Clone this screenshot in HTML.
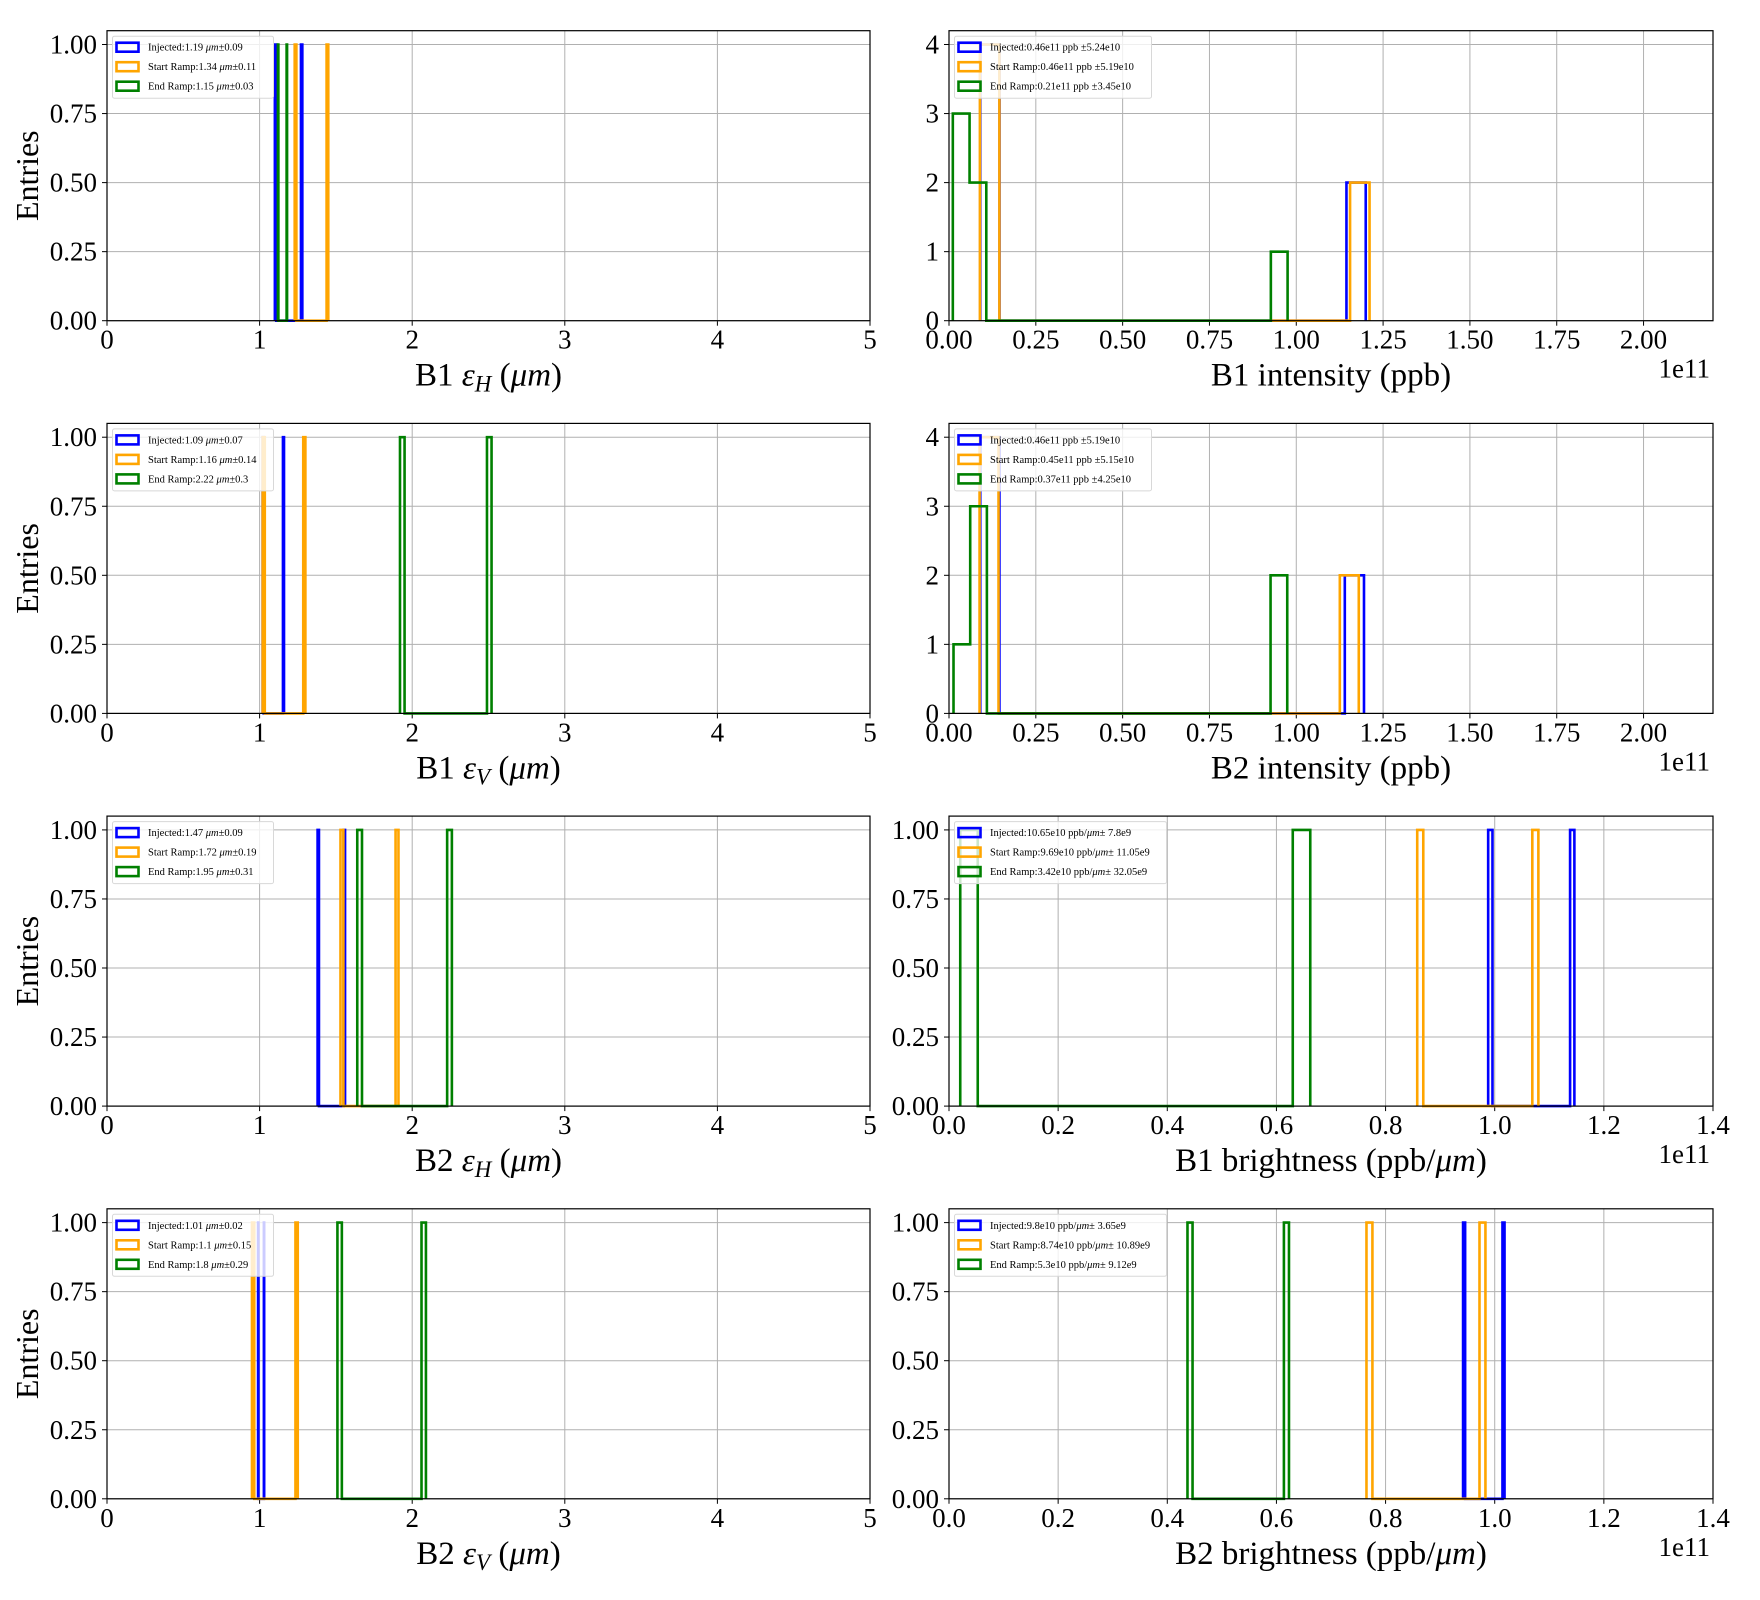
<!DOCTYPE html>
<html><head><meta charset="utf-8"><title>Histograms</title>
<style>
html,body{margin:0;padding:0;background:#fff;}
svg{display:block;font-family:"Liberation Serif","DejaVu Serif",serif;}
</style></head>
<body>
<svg id="fig" width="1760" height="1600" viewBox="0 0 1760 1600" xmlns="http://www.w3.org/2000/svg"></svg>
<script>
// ---- data: raw entries per series (units: um, 1e11 ppb, 1e11 ppb/um) ----
const seriesNames = ["Injected", "Start Ramp", "End Ramp"];
const b1EhInjected = [1.10, 1.28];
const b1EhStart = [1.23, 1.45];
const b1EhEnd = [1.12, 1.18];
const b1IntInjected = [0.090, 0.10, 0.11, 0.12, 1.18, 1.20];
const b1IntStart = [0.089, 0.10, 0.11, 0.12, 1.19, 1.211];
const b1IntEnd = [0.011, 0.03, 0.04, 0.08, 0.09, 0.975];
const b1EvInjected = [1.02, 1.16];
const b1EvStart = [1.02, 1.30];
const b1EvEnd = [1.92, 2.52];
const b2IntInjected = [0.090, 0.10, 0.11, 0.12, 1.17, 1.195];
const b2IntStart = [0.088, 0.10, 0.11, 0.12, 1.15, 1.18];
const b2IntEnd = [0.013, 0.07, 0.08, 0.09, 0.95, 0.974];
const b2EhInjected = [1.38, 1.56];
const b2EhStart = [1.53, 1.91];
const b2EhEnd = [1.64, 2.26];
const b1BrInjected = [0.988, 1.146];
const b1BrStart = [0.858, 1.080];
const b1BrEnd = [0.0206, 0.662];
const b2EvInjected = [0.99, 1.03];
const b2EvStart = [0.95, 1.25];
const b2EvEnd = [1.51, 2.09];
const b2BrInjected = [0.942, 1.018];
const b2BrStart = [0.765, 0.983];
const b2BrEnd = [0.437, 0.623];
const emitXTicks = [0, 1, 2, 3, 4, 5];
const emitXTickLabels = ["0", "1", "2", "3", "4", "5"];
const intXTicks = [0, 0.25, 0.5, 0.75, 1.0, 1.25, 1.5, 1.75, 2.0];
const intXTickLabels = ["0.00", "0.25", "0.50", "0.75", "1.00", "1.25", "1.50", "1.75", "2.00"];
const brXTicks = [0, 0.2, 0.4, 0.6, 0.8, 1.0, 1.2, 1.4];
const brXTickLabels = ["0.0", "0.2", "0.4", "0.6", "0.8", "1.0", "1.2", "1.4"];
const fracYTicks = [0, 0.25, 0.5, 0.75, 1.0];
const fracYTickLabels = ["0.00", "0.25", "0.50", "0.75", "1.00"];
const intYTicks = [0, 1, 2, 3, 4];
const intYTickLabels = ["0", "1", "2", "3", "4"];
const legB1Eh = ["Injected:1.19 |μm|±0.09", "Start Ramp:1.34 |μm|±0.11", "End Ramp:1.15 |μm|±0.03"];
const legB1Int = ["Injected:0.46e11 ppb ±5.24e10", "Start Ramp:0.46e11 ppb ±5.19e10", "End Ramp:0.21e11 ppb ±3.45e10"];
const legB1Ev = ["Injected:1.09 |μm|±0.07", "Start Ramp:1.16 |μm|±0.14", "End Ramp:2.22 |μm|±0.3"];
const legB2Int = ["Injected:0.46e11 ppb ±5.19e10", "Start Ramp:0.45e11 ppb ±5.15e10", "End Ramp:0.37e11 ppb ±4.25e10"];
const legB2Eh = ["Injected:1.47 |μm|±0.09", "Start Ramp:1.72 |μm|±0.19", "End Ramp:1.95 |μm|±0.31"];
const legB1Br = ["Injected:10.65e10 ppb/|μm|± 7.8e9", "Start Ramp:9.69e10 ppb/|μm|± 11.05e9", "End Ramp:3.42e10 ppb/|μm|± 32.05e9"];
const legB2Ev = ["Injected:1.01 |μm|±0.02", "Start Ramp:1.1 |μm|±0.15", "End Ramp:1.8 |μm|±0.29"];
const legB2Br = ["Injected:9.8e10 ppb/|μm|± 3.65e9", "Start Ramp:8.74e10 ppb/|μm|± 10.89e9", "End Ramp:5.3e10 ppb/|μm|± 9.12e9"];

const NBINS = 20;
const colors = ["#0000ff", "#ffa500", "#008000"];
const NS = "http://www.w3.org/2000/svg";
const svg = document.getElementById("fig");

function mk(tag, attrs, parent) {
  const e = document.createElementNS(NS, tag);
  for (const k in attrs) e.setAttribute(k, attrs[k]);
  (parent || svg).appendChild(e);
  return e;
}
function histogram(vals) {
  const lo = Math.min(...vals), hi = Math.max(...vals);
  const w = (hi - lo) / NBINS;
  const counts = new Array(NBINS).fill(0);
  vals.forEach(v => { let i = Math.floor((v - lo) / w); if (i >= NBINS) i = NBINS - 1; if (i < 0) i = 0; counts[i]++; });
  const edges = []; for (let i = 0; i <= NBINS; i++) edges.push(lo + i * w);
  return { edges, counts };
}
function addRichText(el, str) {
  str.split("|").forEach((part, i) => {
    const t = document.createElementNS(NS, "tspan");
    if (i % 2 === 1) t.setAttribute("font-style", "italic");
    t.textContent = part;
    el.appendChild(t);
  });
}

function panel(cfg) {
  const { x0, x1, y0, y1, xmax, ymax, xt, xtl, yt, ytl, series, legend, legW, xlabel, showEntries, sci, name } = cfg;
  const g = mk("g", {});
  
  
  const sx = v => x0 + (v / xmax) * (x1 - x0);
  const sy = v => y1 - (v / ymax) * (y1 - y0);
  xt.forEach((v, i) => {
    const l = mk("line", { x1: sx(v), x2: sx(v), y1: y0, y2: y1, stroke: "#b0b0b0", "stroke-width": 1 }, g);
    
    
    mk("line", { x1: sx(v), x2: sx(v), y1: y1, y2: y1 + 5, stroke: "#000", "stroke-width": 1 }, g);
    const t = mk("text", { x: sx(v), y: y1 + 28, "font-size": 27, "text-anchor": "middle", fill: "#000" }, g);
    
    
    t.textContent = xtl[i];
  });
  yt.forEach((v, i) => {
    const l = mk("line", { x1: x0, x2: x1, y1: sy(v), y2: sy(v), stroke: "#b0b0b0", "stroke-width": 1 }, g);
    
    
    mk("line", { x1: x0 - 5, x2: x0, y1: sy(v), y2: sy(v), stroke: "#000", "stroke-width": 1 }, g);
    const t = mk("text", { x: x0 - 10, y: sy(v) + 9, "font-size": 27, "text-anchor": "end", fill: "#000" }, g);
    
    
    t.textContent = ytl[i];
  });
  series.forEach((vals, si) => {
    const h = histogram(vals);
    let d = "M" + sx(h.edges[0]) + "," + sy(0);
    h.counts.forEach((c, i) => {
      d += " L" + sx(h.edges[i]) + "," + sy(c) + " L" + sx(h.edges[i + 1]) + "," + sy(c);
    });
    d += " L" + sx(h.edges[NBINS]) + "," + sy(0);
    const p = mk("path", { d: d, fill: "none", stroke: colors[si], "stroke-width": 2.6, "stroke-linejoin": "miter" }, g);
    
    
  });
  const fr = mk("rect", { x: x0, y: y0, width: x1 - x0, height: y1 - y0, fill: "none", stroke: "#000", "stroke-width": 1.2 }, g);
  
  
  const lg = mk("g", {}, g);
  
  
  mk("rect", { x: x0 + 5.5, y: y0 + 5.5, width: legW, height: 62, rx: 2, fill: "rgba(255,255,255,0.8)", stroke: "#d8d8d8", "stroke-width": 1 }, lg);
  legend.forEach((txt, i) => {
    const cy = y0 + 16.5 + i * 19.5;
    const pr = mk("rect", { x: x0 + 9.5, y: cy - 4.5, width: 22, height: 9, fill: "none", stroke: colors[i], "stroke-width": 2.6 }, lg);
    
    
    const t = mk("text", { x: x0 + 41, y: cy + 3.5, "font-size": 10.5, fill: "#000" }, lg);
    
    
    addRichText(t, txt);
  });
  const xl = mk("text", { x: (x0 + x1) / 2, y: y1 + 65, "font-size": 33, "text-anchor": "middle", fill: "#000" }, g);
  
  
  xlabel(xl);
  if (sci) {
    const s = mk("text", { x: x1 - 3, y: y1 + 57, "font-size": 27, "text-anchor": "end", fill: "#000" }, g);
    
    
    s.textContent = "1e11";
  }
  if (showEntries) {
    const cy = (y0 + y1) / 2;
    const e = mk("text", { x: 0, y: 0, "font-size": 32, "text-anchor": "middle", fill: "#000", transform: "translate(38," + cy + ") rotate(-90)" }, g);
    
    
    e.textContent = "Entries";
  }
}
function emitLabel(beam, sub) {
  return el => {
    const a = document.createElementNS(NS, "tspan"); a.textContent = beam + " "; el.appendChild(a);
    const b = document.createElementNS(NS, "tspan"); b.setAttribute("font-style", "italic"); b.textContent = "ε"; el.appendChild(b);
    const c = document.createElementNS(NS, "tspan"); c.setAttribute("font-style", "italic"); c.setAttribute("font-size", "23"); c.setAttribute("dy", "6"); c.textContent = sub; el.appendChild(c);
    const d = document.createElementNS(NS, "tspan"); d.setAttribute("dy", "-6"); d.textContent = " ("; el.appendChild(d);
    const e = document.createElementNS(NS, "tspan"); e.setAttribute("font-style", "italic"); e.textContent = "μm"; el.appendChild(e);
    const f = document.createElementNS(NS, "tspan"); f.textContent = ")"; el.appendChild(f);
  };
}
function plainLabel(txt) { return el => addRichText(el, txt); }

const LX0 = 107, LX1 = 870, RX0 = 949, RX1 = 1713;
const rowTop = [30.7, 423.4, 816.1, 1208.8], H = 290;
const base = i => ({ y0: rowTop[i], y1: rowTop[i] + H });

panel(Object.assign(base(0), { name: "panel-b1-eh", x0: LX0, x1: LX1, xmax: 5, ymax: 1.05, xt: emitXTicks, xtl: emitXTickLabels, yt: fracYTicks, ytl: fracYTickLabels, series: [b1EhInjected, b1EhStart, b1EhEnd], legend: legB1Eh, legW: 161, xlabel: emitLabel("B1", "H"), showEntries: true }));
panel(Object.assign(base(0), { name: "panel-b1-intensity", x0: RX0, x1: RX1, xmax: 2.2, ymax: 4.2, xt: intXTicks, xtl: intXTickLabels, yt: intYTicks, ytl: intYTickLabels, series: [b1IntInjected, b1IntStart, b1IntEnd], legend: legB1Int, legW: 197, xlabel: plainLabel("B1 intensity (ppb)"), sci: true }));
panel(Object.assign(base(1), { name: "panel-b1-ev", x0: LX0, x1: LX1, xmax: 5, ymax: 1.05, xt: emitXTicks, xtl: emitXTickLabels, yt: fracYTicks, ytl: fracYTickLabels, series: [b1EvInjected, b1EvStart, b1EvEnd], legend: legB1Ev, legW: 161, xlabel: emitLabel("B1", "V"), showEntries: true }));
panel(Object.assign(base(1), { name: "panel-b2-intensity", x0: RX0, x1: RX1, xmax: 2.2, ymax: 4.2, xt: intXTicks, xtl: intXTickLabels, yt: intYTicks, ytl: intYTickLabels, series: [b2IntInjected, b2IntStart, b2IntEnd], legend: legB2Int, legW: 197, xlabel: plainLabel("B2 intensity (ppb)"), sci: true }));
panel(Object.assign(base(2), { name: "panel-b2-eh", x0: LX0, x1: LX1, xmax: 5, ymax: 1.05, xt: emitXTicks, xtl: emitXTickLabels, yt: fracYTicks, ytl: fracYTickLabels, series: [b2EhInjected, b2EhStart, b2EhEnd], legend: legB2Eh, legW: 161, xlabel: emitLabel("B2", "H"), showEntries: true }));
panel(Object.assign(base(2), { name: "panel-b1-brightness", x0: RX0, x1: RX1, xmax: 1.4, ymax: 1.05, xt: brXTicks, xtl: brXTickLabels, yt: fracYTicks, ytl: fracYTickLabels, series: [b1BrInjected, b1BrStart, b1BrEnd], legend: legB1Br, legW: 212, xlabel: plainLabel("B1 brightness (ppb/|μm|)"), sci: true }));
panel(Object.assign(base(3), { name: "panel-b2-ev", x0: LX0, x1: LX1, xmax: 5, ymax: 1.05, xt: emitXTicks, xtl: emitXTickLabels, yt: fracYTicks, ytl: fracYTickLabels, series: [b2EvInjected, b2EvStart, b2EvEnd], legend: legB2Ev, legW: 161, xlabel: emitLabel("B2", "V"), showEntries: true }));
panel(Object.assign(base(3), { name: "panel-b2-brightness", x0: RX0, x1: RX1, xmax: 1.4, ymax: 1.05, xt: brXTicks, xtl: brXTickLabels, yt: fracYTicks, ytl: fracYTickLabels, series: [b2BrInjected, b2BrStart, b2BrEnd], legend: legB2Br, legW: 212, xlabel: plainLabel("B2 brightness (ppb/|μm|)"), sci: true }));
</script>
</body></html>
